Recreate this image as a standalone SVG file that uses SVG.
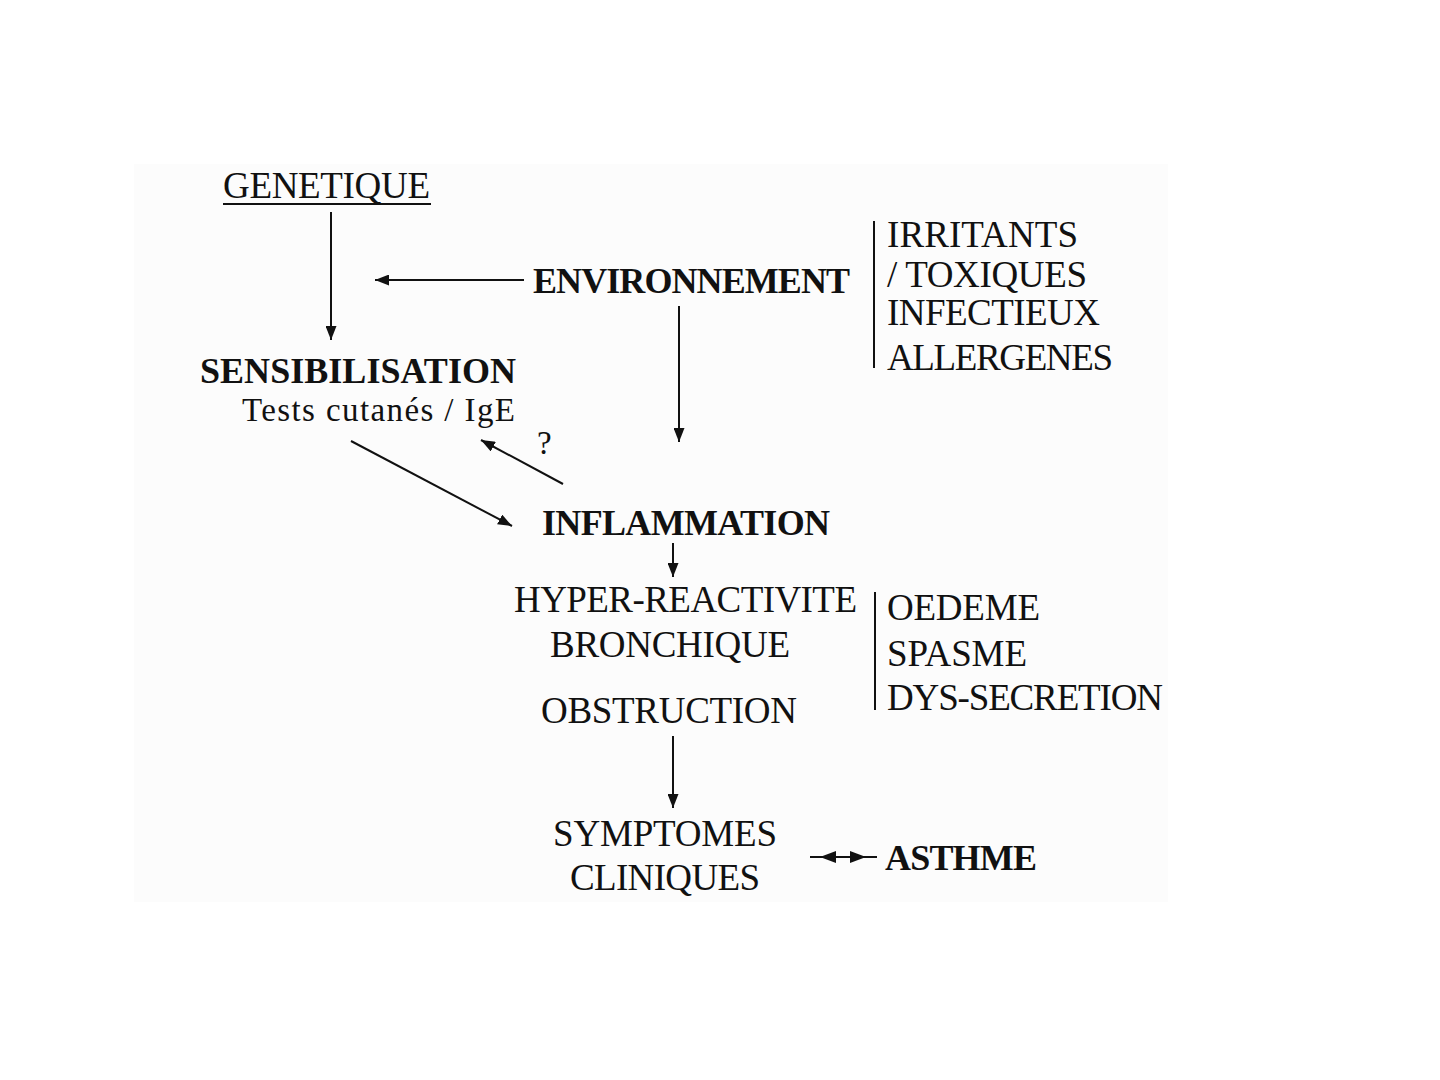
<svg xmlns="http://www.w3.org/2000/svg" width="1440" height="1080" viewBox="0 0 1440 1080">
<defs>
<style>
text{font-family:"Liberation Serif","Times New Roman",serif;fill:#111;}
.r{font-size:37px;}
.b{font-size:36px;font-weight:bold;}
.s{font-size:33px;}
.ln{stroke:#111;stroke-width:2;fill:none;}
.ah{fill:#111;}
</style>
<marker id="arr" viewBox="0 0 14 11" refX="14" refY="5.5" markerWidth="14" markerHeight="11" markerUnits="userSpaceOnUse" orient="auto">
<path d="M0,0 L14,5.5 L0,11 Z" fill="#111"/>
</marker>
</defs>
<rect x="0" y="0" width="1440" height="1080" fill="#ffffff"/>
<rect x="134" y="164" width="1034" height="738" fill="#fcfcfc"/>

<g id="connectors">
<line class="ln" x1="331" y1="212" x2="331" y2="340" marker-end="url(#arr)"/>
<line class="ln" x1="524" y1="280" x2="375" y2="280" marker-end="url(#arr)"/>
<line class="ln" x1="679" y1="306" x2="679" y2="442" marker-end="url(#arr)"/>
<line class="ln" x1="351" y1="441" x2="512" y2="526" marker-end="url(#arr)"/>
<line class="ln" x1="563" y1="484" x2="481" y2="440" marker-end="url(#arr)"/>
<line class="ln" x1="673" y1="543" x2="673" y2="577" marker-end="url(#arr)"/>
<line class="ln" x1="673" y1="736" x2="673" y2="808" marker-end="url(#arr)"/>
<g id="double-arrow">
<line class="ln" x1="810" y1="857" x2="877" y2="857"/>
<polygon class="ah" points="820,857 836,851 836,863"/>
<polygon class="ah" points="866,857 850,851 850,863"/>
</g>
<line class="ln" x1="874" y1="221" x2="874" y2="368"/>
<line class="ln" x1="875" y1="592" x2="875" y2="710"/>
</g>

<g id="genetique">
<text class="r" x="223" y="198" textLength="207">GENETIQUE</text>
<line x1="223" y1="204" x2="431" y2="204" stroke="#111" stroke-width="2"/>
</g>
<g id="environnement">
<text class="b" x="533" y="293" textLength="317">ENVIRONNEMENT</text>
</g>
<g id="facteurs">
<text class="r" x="887" y="247" textLength="191">IRRITANTS</text>
<text class="r" x="887" y="287" textLength="200">/ TOXIQUES</text>
<text class="r" x="887" y="325" textLength="213">INFECTIEUX</text>
<text class="r" x="887" y="370" textLength="226">ALLERGENES</text>
</g>
<g id="sensibilisation">
<text class="b" x="200" y="383" textLength="316">SENSIBILISATION</text>
<text class="s" x="242" y="421" textLength="273">Tests cutanés / IgE</text>
</g>
<g id="question">
<text class="s" x="537" y="454" font-size="28">?</text>
</g>
<g id="inflammation">
<text class="b" x="542" y="535" textLength="288">INFLAMMATION</text>
</g>
<g id="hyperreactivite">
<text class="r" x="514" y="612" textLength="343">HYPER-REACTIVITE</text>
<text class="r" x="550" y="657" textLength="240">BRONCHIQUE</text>
</g>
<g id="mecanismes">
<text class="r" x="887" y="620" textLength="153">OEDEME</text>
<text class="r" x="887" y="666" textLength="140">SPASME</text>
<text class="r" x="887" y="710" textLength="276">DYS-SECRETION</text>
</g>
<g id="obstruction">
<text class="r" x="541" y="723" textLength="256">OBSTRUCTION</text>
</g>
<g id="symptomes">
<text class="r" x="553" y="846" textLength="224">SYMPTOMES</text>
<text class="r" x="570" y="890" textLength="190">CLINIQUES</text>
</g>
<g id="asthme">
<text class="b" x="885" y="870" textLength="152">ASTHME</text>
</g>
</svg>
